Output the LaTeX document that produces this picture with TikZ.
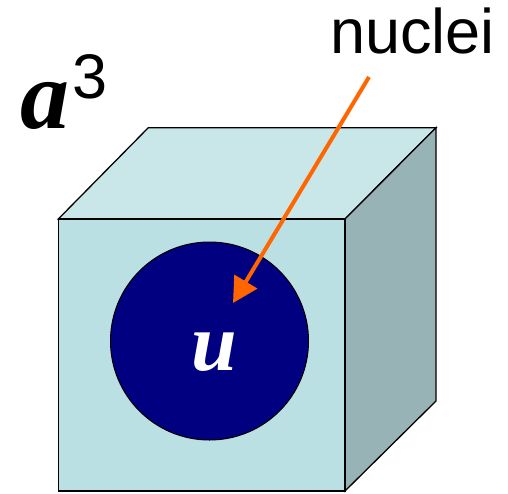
\documentclass[tikz,border=0pt]{standalone}
\usepackage{fontspec}
\setmainfont{Liberation Serif}
\newfontfamily\arialfont{Liberation Sans}
\usetikzlibrary{arrows.meta}
\definecolor{frontc}{HTML}{BAE0E3}
\definecolor{topc}{HTML}{C9E7E9}
\definecolor{sidec}{HTML}{97B3B6}
\definecolor{navyc}{HTML}{000080}
\definecolor{orangec}{HTML}{FF6600}
\tikzset{
  face/.style={draw=black, line width=1.3pt, line join=miter},
  lbl/.style={inner sep=0pt, anchor=base west},
}
\begin{document}
\begin{tikzpicture}[x=1pt,y=-1pt]
\useasboundingbox (0,0) rectangle (508,493);
% cube
\draw[face, fill=topc] (58.3,219) -- (148.3,127.7) -- (436,127.7) -- (345,219) -- cycle;
\draw[face, fill=sidec] (345,219) -- (436,127.7) -- (436,401) -- (345,491) -- cycle;
\draw[face, fill=frontc] (58.3,219) rectangle (345,491);
% nucleus
\node[circle, draw=black, line width=1pt, fill=navyc, minimum size=198pt, inner sep=0pt] (nucleus) at (209.5,341) {};
\node[lbl, text=white, font=\fontsize{82}{82}\selectfont\bfseries\itshape] (u) at (191,370.5) {u};
% labels
\node[lbl, font=\fontsize{98}{98}\selectfont\bfseries\itshape] (a) at (20,128) {a};
\node[lbl, font=\arialfont\fontsize{63}{63}\selectfont] (three) at (72,98) {3};
\node[lbl, font=\arialfont\fontsize{63}{63}\selectfont] (nuclei) at (330,53) {nuclei};
% arrow
\coordinate (tail) at (369,77);
\coordinate (tip) at (233,303);
\draw[orangec, line width=4pt, -{Triangle[length=25pt,width=26pt]}] (tail) -- (tip);
\end{tikzpicture}
\end{document}
